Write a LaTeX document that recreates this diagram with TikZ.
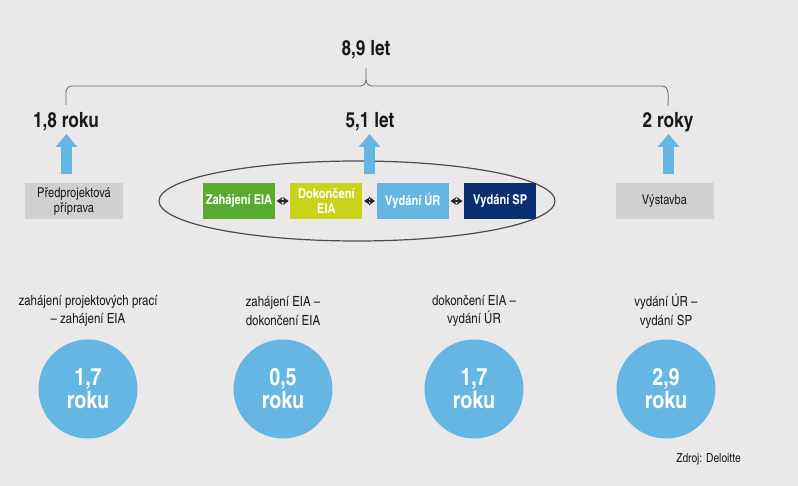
\documentclass[tikz,border=0pt]{standalone}
\usepackage{fontspec}
\setmainfont{TeX Gyre Heros Cn}
\usepackage{tikz}
\usetikzlibrary{positioning,arrows.meta}

\definecolor{bgcol}{HTML}{EAE8E8}
\definecolor{greybox}{HTML}{D0D0D1}
\definecolor{eiagreen}{HTML}{5AAA2E}
\definecolor{eialime}{HTML}{C8D31A}
\definecolor{urblue}{HTML}{65B6E2}
\definecolor{spnavy}{HTML}{0B2E6E}
\definecolor{txtcol}{HTML}{1A1A1A}

\tikzset{
	yearlabel/.style={font=\fontsize{21}{23}\selectfont\bfseries, text=txtcol, inner sep=0pt},
	greystage/.style={fill=greybox, minimum width=98pt, minimum height=36pt, align=center,
		font=\fontsize{13.5}{15}\selectfont, text=txtcol, inner sep=0pt},
	phasebox/.style={minimum width=72pt, minimum height=36pt, align=center, text=white,
		font=\fontsize{13.5}{15}\selectfont\bfseries, inner sep=0pt},
	upblue/.style={draw=urblue, line width=11pt, -{Triangle[width=21pt,length=13pt]}},
	linkarrow/.style={{Stealth[length=6pt,width=8pt]}-{Stealth[length=6pt,width=8pt]}, line width=1.5pt, draw=black!85, shorten <=1.5pt, shorten >=1.5pt},
	periodtext/.style={align=center, font=\fontsize{14}{18.5}\selectfont, text=txtcol, inner sep=0pt},
	periodcircle/.style={circle, fill=urblue, minimum size=99pt, inner sep=0pt, align=center,
		text=white, font=\fontsize{24}{25}\selectfont\bfseries},
	bracket/.style={draw=gray!80!black, line width=0.8pt}
}

\begin{document}
\begin{tikzpicture}[x=1pt,y=-1pt]
	% pozadi
	\fill[bgcol] (0,0) rectangle (798,486);
	\useasboundingbox (0,0) rectangle (798,486);

	% celkova doba a svorka
	\node[yearlabel] (total) at (366,50) {8,9 let};
	\coordinate (brl) at (66,105);
	\coordinate (brr) at (668,106);
	\coordinate (brm) at (366,68);
	\draw[bracket] (brl) -- (66,92) to[out=90,in=180] (72,86) -- (360,86) to[out=0,in=-90] (366,80) -- (brm);
	\draw[bracket] (366,80) to[out=-90,in=180] (372,86) -- (662,86) to[out=0,in=90] (brr);

	% dilci doby
	\node[yearlabel] (pre) at (66,122) {1,8 roku};
	\node[yearlabel] (mid) at (370,122) {5,1 let};
	\node[yearlabel] (post) at (668,122) {2 roky};

	% faze
	\node[greystage] (prep) at (74,201) {Předprojektová\\příprava};
	\node[greystage] (build) at (664.5,201) {Výstavba};
	\draw[line width=1.2pt, draw=black!70] (357,201) ellipse (198pt and 40pt);
	\node[phasebox, fill=eiagreen] (zeia) at (239,201) {Zahájení EIA};
	\node[phasebox, fill=eialime, right=15pt of zeia] (deia) {Dokončení\\EIA};
	\node[phasebox, fill=urblue, right=14pt of deia] (vur) {Vydání ÚR};
	\node[phasebox, fill=spnavy, right=15pt of vur] (vsp) {Vydání SP};
	\draw[linkarrow] (zeia) -- (deia);
	\draw[linkarrow] (deia) -- (vur);
	\draw[linkarrow] (vur) -- (vsp);

	% modre sipky
	\coordinate (amid) at (369.5,174);
	\draw[upblue] (66.5,174) -- (66.5,134);
	\draw[upblue] (amid) -- (369.5,134);
	\draw[upblue] (668.5,174) -- (668.5,134);

	% doby mezi milniky
	\foreach \cx/\cy/\lbl/\val/\nm in {
		88/389/{zahájení projektových prací\\– zahájení EIA}/{1,7}/a,
		283/389/{zahájení EIA –\\dokončení EIA}/{0,5}/b,
		474/389/{dokončení EIA –\\vydání ÚR}/{1,7}/c,
		666/389/{vydání ÚR –\\vydání SP}/{2,9}/d}{
		\node[periodtext] (t\nm) at (\cx,311) {\lbl};
		\node[periodcircle] (c\nm) at (\cx,\cy) {\val\\[-2pt]roku};
	}

	% zdroj
	\node[font=\fontsize{12.5}{13}\selectfont, text=txtcol, inner sep=0pt] (src) at (708.5,459) {Zdroj: Deloitte};
\end{tikzpicture}
\end{document}
